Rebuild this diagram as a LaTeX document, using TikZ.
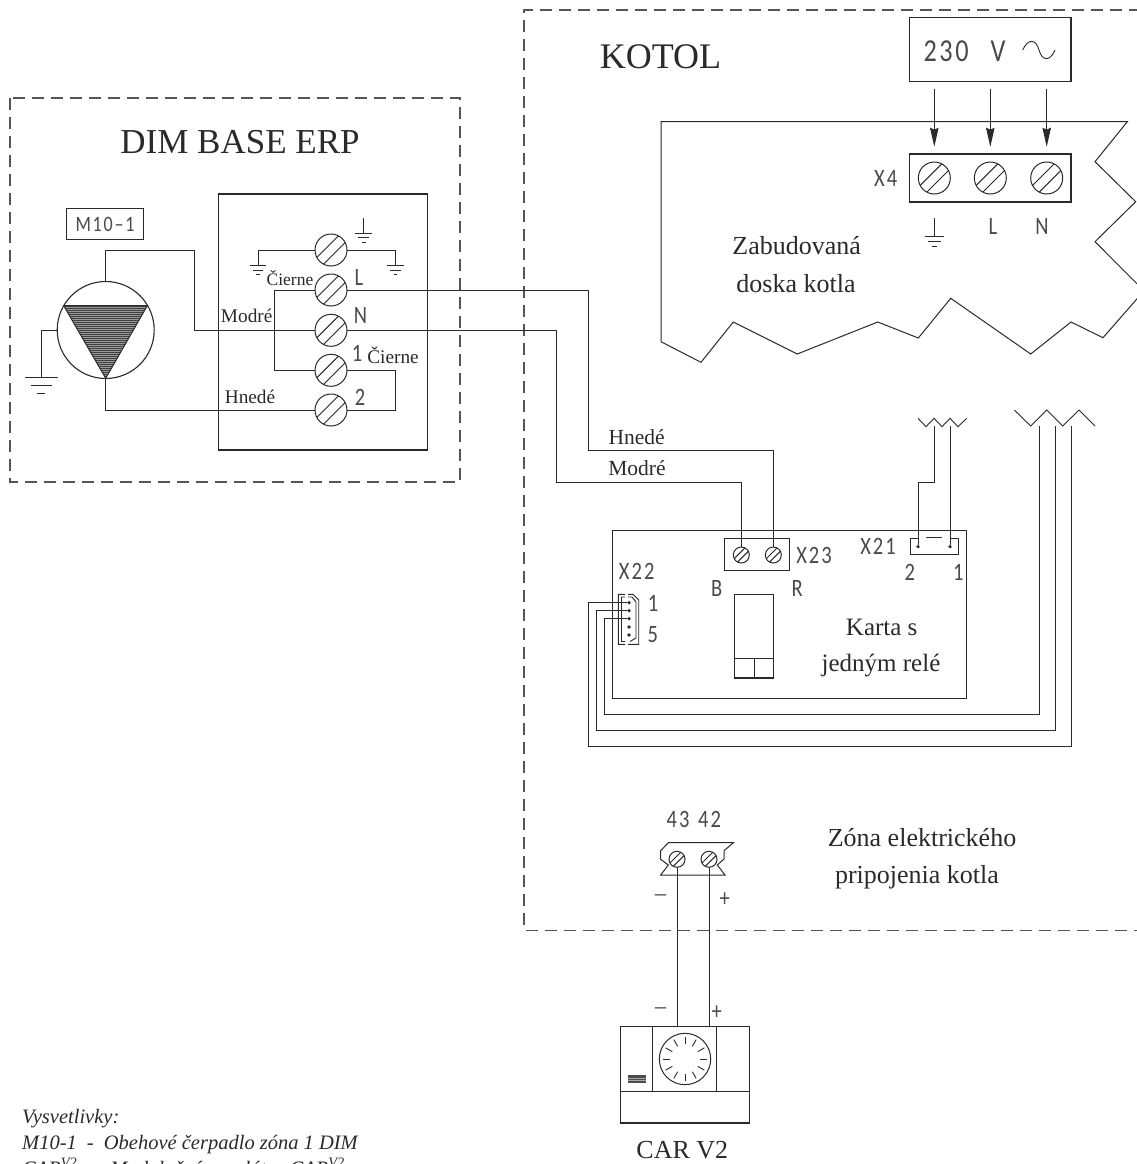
\documentclass[tikz,border=0pt]{standalone}
\usepackage{fontspec}
\setmainfont{Liberation Serif}
\newfontfamily\techfont[LetterSpace=8,FakeStretch=.82]{Carlito}
\usetikzlibrary{calc,arrows.meta}
\definecolor{ink}{HTML}{2A2A2A}
\newcommand{\gnd}[4]{%
  \draw[wire] (#1-#3/2,#2) -- (#1+#3/2,#2);
  \draw[wire] (#1-#3*.32,#2+#4) -- (#1+#3*.32,#2+#4);
  \draw[wire] (#1-#3*.12,#2+2*#4) -- (#1+#3*.12,#2+2*#4);}
\tikzset{
  wire/.style={draw=ink,line width=1pt,line join=miter},
  thinwire/.style={draw=ink,line width=.9pt},
  zonebox/.style={draw=ink!80,line width=1.1pt,dash pattern=on 12pt off 7pt},
  screwbig/.style={screwbase,minimum size=32pt},
  screwsmall/.style={screwbase,minimum size=16pt},
  screwbase/.style={circle,draw=ink,line width=1pt,inner sep=0pt,outer sep=0pt,
    path picture={
      \draw[ink,line width=1pt]
        ($(path picture bounding box.south west)!.21!(path picture bounding box.north west)$) --
        ($(path picture bounding box.north east)!.21!(path picture bounding box.north west)$)
        ($(path picture bounding box.south west)!.21!(path picture bounding box.south east)$) --
        ($(path picture bounding box.north east)!.21!(path picture bounding box.south east)$);}},
  serifxl/.style={text=ink,font=\fontsize{35}{38}\selectfont,inner sep=0pt},
  seriflg/.style={text=ink,font=\fontsize{26}{30}\selectfont,inner sep=0pt},
  serifcard/.style={text=ink,font=\fontsize{25}{30}\selectfont,inner sep=0pt},
  serifmd/.style={text=ink,font=\fontsize{21.5}{24}\selectfont,inner sep=0pt},
  serifdim/.style={text=ink,font=\fontsize{19.3}{24}\selectfont,inner sep=0pt},
  serifsm/.style={text=ink,font=\fontsize{17.5}{22}\selectfont,inner sep=0pt},
  techlg/.style={text=ink!85,font=\techfont\fontsize{32}{34}\selectfont,inner sep=0pt},
  techmd/.style={text=ink!85,font=\techfont\fontsize{25}{28}\selectfont,inner sep=0pt},
  techsm/.style={text=ink!85,font=\techfont\fontsize{22}{26}\selectfont,inner sep=0pt},
  legend/.style={text=ink,font=\itshape\fontsize{20.5}{24}\selectfont,inner sep=0pt,anchor=base west},
  boxnode/.style={draw=ink,line width=1.1pt,inner sep=0pt,outer sep=0pt,anchor=north west},
  dot/.style={circle,fill=ink,inner sep=0pt,minimum size=3.6pt},
}
\begin{document}
\begin{tikzpicture}[x=1pt,y=-1pt]
\useasboundingbox (0,0) rectangle (1137,1164);
\clip (0,0) rectangle (1137,1164);
\fill[white] (0,0) rectangle (1137,1164);

% zones
\draw[zonebox] (10,98) rectangle (460,482);
\draw[zonebox] (1160,10) -- (524,10) -- (524,930.5) -- (1160,930.5);
\node[serifxl] (dimtitle) at (240,142) {DIM BASE ERP};
\node[serifxl,font=\fontsize{36}{38}\selectfont] (kotoltitle) at (660.5,57) {KOTOL};

% DIM box
\node[boxnode,minimum width=209.2pt,minimum height=256pt] (dimbox) at (218.3,194) {};
\node[boxnode,minimum width=76.6pt,minimum height=31pt] (mbox) at (66.7,208.3) {};
\node[techsm] (mlabel) at (105,224) {M10–1};

% pump
\node[circle,draw=ink,line width=1.1pt,minimum size=97pt,inner sep=0pt,outer sep=0pt] (pump) at (105.7,330) {};
\begin{scope}
  \clip (63.7,305.7) -- (147.3,305.7) -- (105.7,378.3) -- cycle;
  \fill[black!40] (60,300) rectangle (150,380);
  \foreach \yy in {306,308,...,380} \draw[black!75,line width=1pt] (60,\yy) -- (150,\yy);
\end{scope}
\draw[wire] (63.7,305.7) -- (147.3,305.7) -- (105.7,378.3) -- cycle;

% DIM terminals
\node[screwbig] (tpe) at (331,250) {};
\node[screwbig] (tl) at (331,290) {};
\node[screwbig] (tn) at (331,330.3) {};
\node[screwbig] (tone) at (331,370.3) {};
\node[screwbig] (ttwo) at (331,410) {};

% X4 and mains
\node[boxnode,minimum width=161.7pt,minimum height=64pt] (mains) at (909.3,17.7) {};
\node[boxnode,minimum width=161.7pt,minimum height=48pt] (xfour) at (909.3,154) {};
\node[screwbig] (xpe) at (934.3,178) {};
\node[screwbig] (xl) at (990.3,178) {};
\node[screwbig] (xn) at (1046.7,178) {};
\node[techlg] (vlabel) at (964.5,51) {230\hspace{22pt}V};
\draw[thinwire] (1022.7,50) .. controls (1028,38) and (1036,39) .. (1039,50) .. controls (1042,61) and (1050,62) .. (1055,50);
\coordinate (afrom1) at (934.3,89.3);
\coordinate (afrom2) at (990.3,89.3);
\coordinate (afrom3) at (1046.7,89.3);
\foreach \a/\b in {afrom1/xpe,afrom2/xl,afrom3/xn}
  \draw[thinwire,-{Stealth[length=19pt,width=8.5pt,inset=2pt]}] (\a) -- (\a |- 0,146.7);
\node[techmd] (xfourl) at (885.7,178) {X4};
\draw[wire] (934.3,217.7) -- (934.3,236.7);
\gnd{934.3}{236.7}{19.5}{5}
\node[techmd] (xll) at (993,226.7) {L};
\node[techmd] (xnl) at (1042,226.7) {N};

% board outline
\draw[wire] (661,121.7) -- (1127.3,121.7) -- (1095,161.7) -- (1135.7,201.7) -- (1095,241.7)
  -- (1144,290.8) -- (1103,337.7) -- (1071,322) -- (1030.7,354) -- (950.7,298.3) -- (918.3,338)
  -- (877.7,322) -- (797.3,354) -- (733.3,322) -- (701,362.3) -- (661,341.7) -- cycle;
\node[seriflg] (boardl1) at (796.7,246) {Zabudovaná};
\node[seriflg] (boardl2) at (796,284) {doska kotla};

% wiring in DIM
\draw[wire] (pump.north) |- (194.3,250) |- (tn.west);
\draw[wire] (pump.south) |- (ttwo.west);
\draw[wire] (pump.west) -| (41,377.7);
\gnd{41.3}{377.7}{32.6}{8}
\draw[wire] (tpe.west) -| (258.3,265.7);
\gnd{258}{265.7}{15.4}{4.3}
\draw[wire] (tpe.east) -| (395.7,265.7);
\gnd{395.5}{265.7}{16.4}{4.3}
\draw[wire] (363.7,218) -- (363.7,233.3);
\gnd{363.7}{233.3}{17}{4.4}
\draw[wire] (tl.west) -| (274.3,370.3) -- (tone.west);
\draw[wire] (tone.east) -| (395.7,410) -- (ttwo.east);

% DIM labels
\node[serifsm] (lc1) at (290,278) {Čierne};
\node[serifdim] (lm1) at (246.7,316) {Modré};
\node[serifdim] (lh1) at (250,397) {Hnedé};
\node[serifdim] (lc2) at (393,355) {Čierne};
\node[techmd] (ll) at (359,277) {L};
\node[techmd] (ln) at (360.5,315) {N};
\node[techmd] (lone) at (357,353) {1};
\node[techmd] (ltwo) at (360,397) {2};

% card
\node[boxnode,minimum width=354pt,minimum height=167.6pt] (card) at (612.3,530.7) {};
\node[boxnode,minimum width=65pt,minimum height=32pt] (xtt) at (724.7,538.3) {};
\node[screwsmall] (sb) at (741.3,555) {};
\node[screwsmall] (sr) at (773.3,555) {};
\draw[wire] (tl.east) -| (588.3,450.3) -| (sr.north);
\draw[wire] (tn.east) -| (556,482) -| (sb.north);
\node[serifmd] (lh2) at (636.7,437) {Hnedé};
\node[serifmd] (lm2) at (637,468.5) {Modré};
\node[techmd] (lxtt) at (814,555) {X23};
\node[techmd] (lb) at (716.7,588.3) {B};
\node[techmd] (lr) at (797.3,588.3) {R};
\node[techmd] (lxto) at (878,546.7) {X21};
\node[techmd] (lx2) at (909.7,572.7) {2};
\node[techmd] (lx1) at (958.3,572.7) {1};
\node[techmd] (lxtw) at (636.7,571.7) {X22};
\node[techmd] (lf1) at (653,603) {1};
\node[techmd] (lf5) at (652.7,635) {5};
\node[serifcard] (kar1) at (881.7,627) {Karta s};
\node[serifcard] (kar2) at (881,665) {jedným relé};

% relay
\node[boxnode,minimum width=39pt,minimum height=83.7pt] (relay) at (734.3,594.3) {};
\draw[wire] (734.3,658.3) -- (773.3,658.3) (754,658.3) -- (754,678);

% X21
\node[dot] (d2) at (918,546.7) {};
\node[dot] (d1) at (950,546.7) {};
\draw[wire] (918,538.3) -- (910,538.3) -- (910,554.7) -- (958.3,554.7) -- (958.3,538.3) -- (950,538.3);
\draw[wire] (926,537.7) -- (942.3,537.7);

% small zigzag
\draw[thinwire] (918,418.3) -- (926,426.7) -- (934,418.3) -- (942,426.7) -- (950,418.3) -- (958,426.7) -- (966.7,418.3);
\coordinate (zs1) at (934,426);
\coordinate (zs2) at (950,426);
\draw[wire] (zs1) |- (918,482.3) -- (d2);
\draw[wire] (zs2) -- (d1);

% X22
\node[dot] (p1) at (629,602.7) {};
\node[dot] (p2) at (629,610.7) {};
\node[dot] (p3) at (629,618.7) {};
\node[dot] (p4) at (629,627) {};
\node[dot] (p5) at (629,635) {};
\draw[thinwire] (625,594.3) -- (618.3,594.3) -- (618.3,644.3) -- (625,644.3)
  (625,597) -- (621.5,597) -- (621.5,641.5) -- (625,641.5)
  (628,594.3) -- (633,594.3) -- (638.7,600) -- (638.7,644.3) -- (628,644.3)
  (628,597) -- (632,597) -- (636,602) -- (636,638) -- (630,641.5);

% big zigzag
\draw[thinwire] (1014.3,410) -- (1030.7,426) -- (1046.7,410) -- (1062.7,426) -- (1079,410) -- (1095,426);
\coordinate (zb1) at (1039,426);
\coordinate (zb2) at (1055,426);
\coordinate (zb3) at (1071,426);
\draw[wire] (zb1) |- (604.7,714.3) |- (p3);
\draw[wire] (zb2) |- (596.3,730.3) |- (p2);
\draw[wire] (zb3) |- (588.3,746.7) |- (p1);

% lower terminal
\draw[wire] (668.3,842.7) -- (733.3,842.7) -- (724,850.7) -- (724,859) -- (717.3,865) -- (725,875)
  -- (660.7,875) -- (668.3,865) -- (660.7,859.3) -- (660.7,850.7) -- cycle;
\node[screwsmall,fill=white] (s43) at (677,859.3) {};
\node[screwsmall,fill=white] (s42) at (709,859.3) {};
\node[techmd] (l43) at (678,819) {43};
\node[techmd] (l42) at (709.5,819) {42};
\node[serifxl] (m1) at (660.7,898) {\fontsize{22}{24}\selectfont –};
\node[techmd] (p1l) at (724.7,900) {+};
\node[serifxl] (m2) at (660.7,1010.5) {\fontsize{22}{24}\selectfont –};
\node[techmd] (p2l) at (716.7,1012.3) {+};

% CAR
\node[boxnode,minimum width=129pt,minimum height=96.3pt] (car) at (620.3,1026.7) {};
\draw[wire] (s43.south) -- (s43.south |- car.north);
\draw[wire] (s42.south) -- (s42.south |- car.north);
\draw[wire] (620.3,1091) -- (749.3,1091) (652.7,1026.7) -- (652.7,1091) (716.7,1026.7) -- (716.7,1091);
\node[circle,draw=ink,line width=1pt,minimum size=51.4pt,inner sep=0pt] (dial) at (685,1059) {};
\foreach \ang in {0,30,...,330}
  \draw[thinwire] ($(dial.center)+(\ang:14.7)$) -- ($(dial.center)+(\ang:22.3)$);
\fill[black!70] (628.3,1075) rectangle (645.7,1083.3);
\draw[black!35,line width=.6pt] (628.3,1078) -- (645.7,1078) (628.3,1080.5) -- (645.7,1080.5);
\node[seriflg] (carname) at (682.3,1150) {CAR V2};

% zone label
\node[seriflg] (zon1) at (922,838) {Zóna elektrického};
\node[seriflg] (zon2) at (917,877) {pripojenia kotla};

% legend
\node[legend] (leg1) at (22,1123) {Vysvetlivky:};
\node[legend] (leg2) at (22,1149) {M10-1\hspace{5pt} -\hspace{5pt} Obehové čerpadlo zóna 1 DIM};
\node[legend] (leg3) at (22,1175) {CAR\textsuperscript{V2}\hspace{8pt} -\hspace{8pt} Modulačný regulátor CAR\textsuperscript{V2}};
\end{tikzpicture}
\end{document}
